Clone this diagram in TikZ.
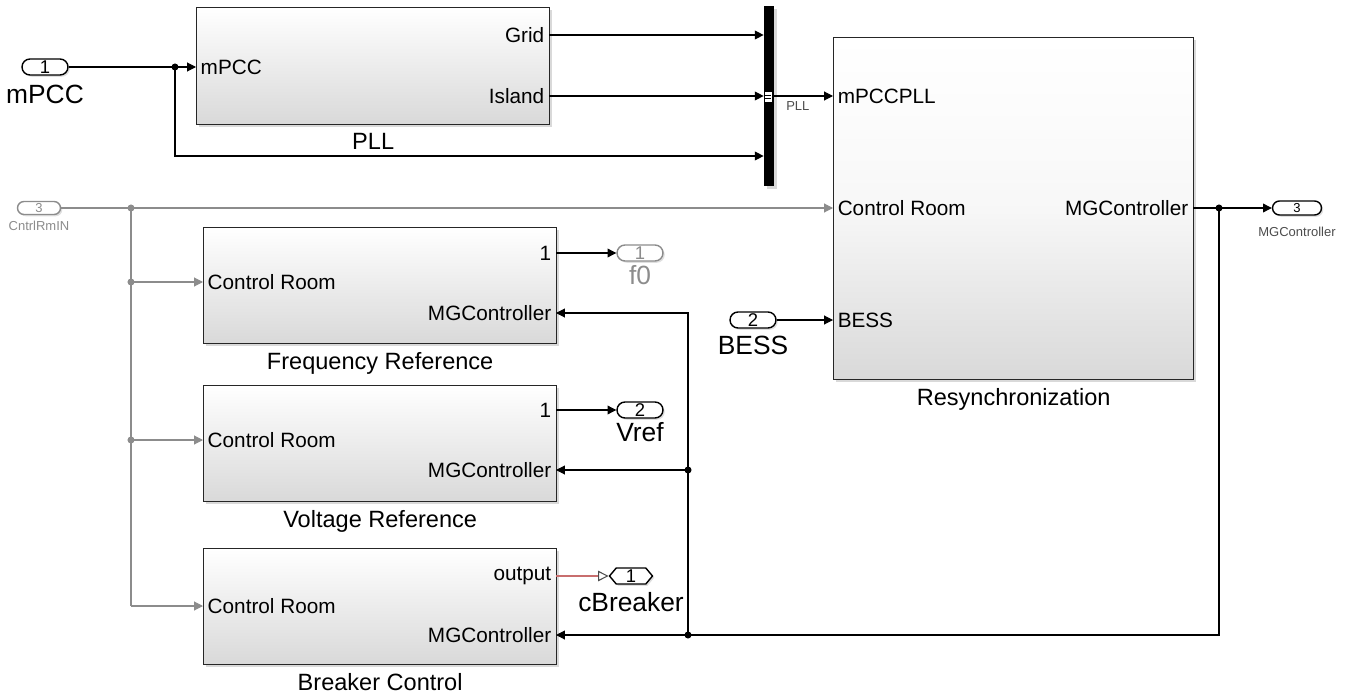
\documentclass[tikz,border=0pt]{standalone}
\usepackage{fontspec}
\setmainfont{Liberation Sans}
\usetikzlibrary{arrows.meta,shapes.misc,shapes.symbols,shadows,positioning}

\colorlet{sgrey}{black!45}
\definecolor{sred}{RGB}{200,110,110}

\tikzset{
  block/.style={draw=black!85, line width=0.8pt, top color=white, bottom color=black!15,
    drop shadow={shadow xshift=1.5pt, shadow yshift=-1.5pt, opacity=0.3},
    anchor=north west, inner sep=0pt},
  port/.style={font=\fontsize{11.8}{13}\selectfont, inner sep=2.5pt},
  blkname/.style={font=\fontsize{13.4}{15}\selectfont},
  biglbl/.style={font=\fontsize{15}{16}\selectfont, inner sep=1pt},
  smalllbl/.style={font=\fontsize{7.4}{8}\selectfont, inner sep=1pt},
  capsule/.style={draw, rounded rectangle, line width=0.8pt, fill=white,
    minimum width=0.92cm, minimum height=0.32cm, inner sep=0pt,
    text height=7.5pt, text depth=0pt, font=\fontsize{10.5}{11}\selectfont,
    drop shadow={shadow xshift=1pt, shadow yshift=-1pt, opacity=0.25}},
  sig/.style={-{Triangle[length=5pt,width=5pt]}, line width=0.6pt},
  greysig/.style={sig, draw=sgrey, color=sgrey},
  bdot/.style={circle, fill, inner sep=0pt, minimum size=4pt},
}

\begin{document}
\begin{tikzpicture}[x=0.02cm, y=-0.02cm]
  \useasboundingbox (0,0) rectangle (1345,696);

  % blocs
  \node[block, minimum width=7.06cm, minimum height=2.34cm] (pll) at (196,7) {};
  \node[blkname, below=1pt of pll] (pll-name) {PLL};
  \node[block, middle color=black!3, minimum width=7.2cm, minimum height=6.84cm] (rs) at (833,37) {};
  \node[blkname, below=1pt of rs] (rs-name) {Resynchronization};
  \node[block, minimum width=7.06cm, minimum height=2.32cm] (fr) at (203,227) {};
  \node[blkname, below=1pt of fr] (fr-name) {Frequency Reference};
  \node[block, minimum width=7.06cm, minimum height=2.32cm] (vr) at (203,385) {};
  \node[blkname, below=1pt of vr] (vr-name) {Voltage Reference};
  \node[block, minimum width=7.06cm, minimum height=2.32cm] (bc) at (203,548) {};
  \node[blkname, below=1pt of bc] (bc-name) {Breaker Control};

  % bus
  \node[fill=black, minimum width=0.2cm, minimum height=3.6cm, inner sep=0pt,
    drop shadow={shadow xshift=1.5pt, shadow yshift=-1.5pt, opacity=0.3}] (bus) at (769,96) {};
  \draw[white, fill=white] (765,92) rectangle (771,101);
  \draw[black, line width=0.4pt] (765,95) -- (771,95) (765,98) -- (771,98);

  % ports
  \node[port, anchor=west] (pll-in) at (196,67) {mPCC};
  \node[port, anchor=east] (pll-grid) at (549,35) {Grid};
  \node[port, anchor=east] (pll-isl) at (549,96) {Island};
  \node[port, anchor=west] (rs-pll) at (833,96) {mPCCPLL};
  \node[port, anchor=west] (rs-cr) at (833,208) {Control Room};
  \node[port, anchor=west] (rs-bess) at (833,320) {BESS};
  \node[port, anchor=east] (rs-mg) at (1193,208) {MGController};
  \node[port, anchor=west] (fr-cr) at (203,282) {Control Room};
  \node[port, anchor=east] (fr-out) at (556,253) {1};
  \node[port, anchor=east] (fr-mg) at (556,313) {MGController};
  \node[port, anchor=west] (vr-cr) at (203,440) {Control Room};
  \node[port, anchor=east] (vr-out) at (556,410) {1};
  \node[port, anchor=east] (vr-mg) at (556,470) {MGController};
  \node[port, anchor=west] (bc-cr) at (203,606) {Control Room};
  \node[port, anchor=east] (bc-out) at (556,576) {output};
  \node[port, anchor=east] (bc-mg) at (556,635) {MGController};

  % entrées / sorties
  \node[capsule] (in1) at (45,67) {1};
  \node[biglbl, below=4pt of in1] (in1-lbl) {mPCC};
  \node[capsule, draw=sgrey, text=sgrey, minimum width=0.86cm, minimum height=0.26cm,
    text height=5pt, font=\fontsize{7.4}{8}\selectfont] (in3) at (39,208) {3};
  \node[smalllbl, text=sgrey, below=2pt of in3] (in3-lbl) {CntrlRmIN};
  \node[capsule] (in2) at (753,320) {2};
  \node[biglbl, below=3pt of in2] (in2-lbl) {BESS};
  \node[capsule, draw=sgrey, text=sgrey] (out1) at (640,253) {1};
  \node[biglbl, text=sgrey, below=1pt of out1] (out1-lbl) {f0};
  \node[capsule] (out2) at (640,410) {2};
  \node[biglbl, below=1pt of out2] (out2-lbl) {Vref};
  \node[capsule, minimum width=0.98cm, minimum height=0.28cm,
    text height=5pt, font=\fontsize{7.4}{8}\selectfont] (out3) at (1297,208) {3};
  \node[smalllbl, text=black!70, below=5pt of out3] (out3-lbl) {MGController};
  \node[draw, signal, signal to=west and east, signal pointer angle=100, fill=white,
    line width=0.8pt, minimum width=0.86cm, minimum height=0.32cm, inner sep=0pt,
    text height=7.5pt, text depth=0pt, font=\fontsize{10.5}{11}\selectfont,
    drop shadow={shadow xshift=1pt, shadow yshift=-1pt, opacity=0.25}] (goto) at (631,576) {1};
  \node[biglbl, below=3pt of goto] (goto-lbl) {cBreaker};

  % points de branchement
  \node[bdot] (b1) at (175,67) {};
  \node[bdot, sgrey] (b2) at (131,208) {};
  \node[bdot, sgrey] (b3) at (131,282) {};
  \node[bdot, sgrey] (b4) at (131,440) {};
  \node[bdot] (b5) at (1219,208) {};
  \node[bdot] (b6) at (688,635) {};
  \node[bdot] (b7) at (688,470) {};
  \coordinate (k1) at (175,156);
  \coordinate (k2) at (131,606);
  \coordinate (k3) at (1219,635);
  \coordinate (k4) at (688,313);

  % signaux
  \draw[sig] (in1.east) -- (pll-in.west);
  \draw[sig] (b1.center) -- (k1) -- (k1 -| bus.west);
  \draw[sig] (pll-grid.east) -- (pll-grid.east -| bus.west);
  \draw[sig] (pll-isl.east) -- (pll-isl.east -| bus.west);
  \draw[sig] (bus.east) -- (rs-pll.west) node[smalllbl, text=black!70, pos=0.4, below=2pt] {PLL};
  \draw[sig] (in2.east) -- (rs-bess.west);

  \draw[greysig] (in3.east) -- (rs-cr.west);
  \draw[sgrey, line width=0.6pt] (b2.center) -- (k2);
  \draw[greysig] (b3.center) -- (fr-cr.west);
  \draw[greysig] (b4.center) -- (vr-cr.west);
  \draw[greysig] (k2) -- (bc-cr.west);

  \draw[sig] (fr-out.east) -- (out1.west);
  \draw[sig] (vr-out.east) -- (out2.west);
  \draw[sred, line width=0.6pt, -{Triangle[open,length=6pt,width=6pt]}, arrows={[color=black!70]}]
    (bc-out.east) -- (goto.west);

  \draw[sig] (rs-mg.east) -- (out3.west);
  \draw[sig] (b5.center) -- (k3) -- (bc-mg.east);
  \draw[sig] (b6.center) -- (k4) -- (fr-mg.east);
  \draw[sig] (b7.center) -- (vr-mg.east);
\end{tikzpicture}
\end{document}
